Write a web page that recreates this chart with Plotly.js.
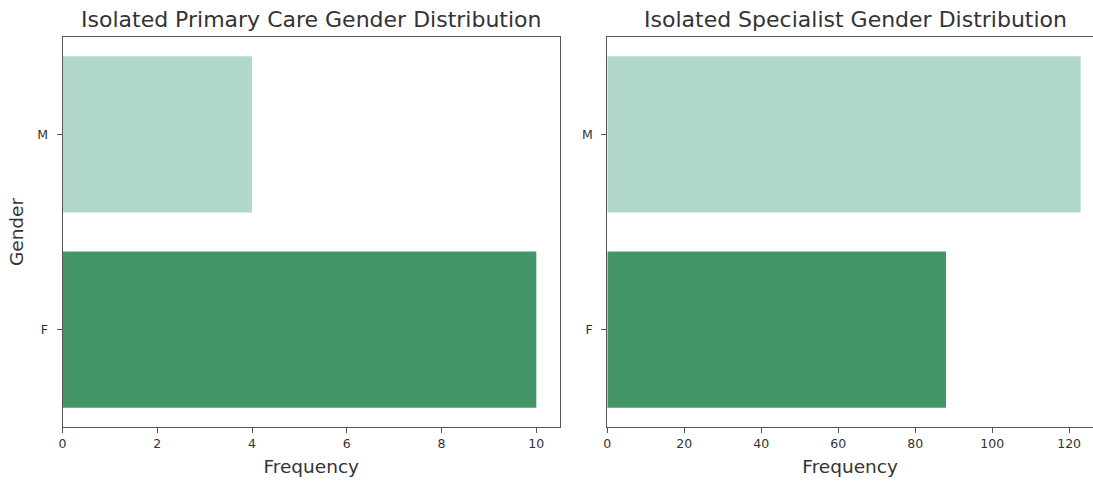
<!DOCTYPE html>
<html>
<head>
<meta charset="utf-8">
<script src="https://cdn.plot.ly/plotly-3.0.1.min.js"></script>
<style>html,body{margin:0;padding:0;background:#fff;}#chart{width:1093px;height:487px;}</style>
</head>
<body>
<div id="chart"></div>
<script>
const genders = ['M', 'F'];
const primaryCounts = [4, 10];
const specialistCounts = [123, 88];
const barColors = ['#b2d8ce', '#449669'];
const subplotTitles = ['Isolated Primary Care Gender Distribution', 'Isolated Specialist Gender Distribution'];
const primaryTicks = [0, 2, 4, 6, 8, 10];
const specialistTicks = [0, 20, 40, 60, 80, 100, 120];

const W = 1093, H = 487;
const font = 'DejaVu Sans, sans-serif';
const axisColor = '#555555';
const tickFont = {family: font, size: 12.5, color: '#333333'};
const titleFont = {family: font, size: 18.5, color: '#333333'};

const traces = [
  {type: 'bar', orientation: 'h', y: genders, x: primaryCounts, width: 0.8,
   marker: {color: barColors, line: {width: 0}}, xaxis: 'x', yaxis: 'y', showlegend: false, hoverinfo: 'x+y'},
  {type: 'bar', orientation: 'h', y: genders, x: specialistCounts, width: 0.8,
   marker: {color: barColors, line: {width: 0}}, xaxis: 'x2', yaxis: 'y2', showlegend: false, hoverinfo: 'x+y'}
];

const yTop = 1 - 36.7 / H, yBot = 1 - 427.3 / H;
const baseX = {showgrid: false, zeroline: false, showline: true, linecolor: axisColor, linewidth: 1,
  ticks: 'outside', ticklen: 5, tickwidth: 1, tickcolor: axisColor, tickfont: tickFont};
const baseY = {showgrid: false, zeroline: false, showline: true, linecolor: axisColor, linewidth: 1,
  ticks: 'outside', ticklen: 5, tickwidth: 1, tickcolor: axisColor, tickfont: tickFont, ticklabelstandoff: 6,
  type: 'category', categoryorder: 'array', categoryarray: genders, range: [1.5, -0.5]};

const layout = {
  width: W, height: H,
  margin: {l: 0, r: 0, t: 0, b: 0},
  paper_bgcolor: '#ffffff', plot_bgcolor: '#ffffff',
  bargap: 0.2,
  xaxis: Object.assign({}, baseX, {domain: [62.5 / W, 560 / W], range: [0, 10.5], anchor: 'y',
    tickvals: primaryTicks, mirror: true,
    title: {text: 'Frequency', font: titleFont, standoff: 9}}),
  yaxis: Object.assign({}, baseY, {domain: [yBot, yTop], anchor: 'x', mirror: true,
    title: {text: 'Gender', font: titleFont, standoff: 8}}),
  xaxis2: Object.assign({}, baseX, {domain: [607.3 / W, 1], range: [0, 126.2], anchor: 'y2',
    tickvals: specialistTicks, mirror: true,
    title: {text: 'Frequency', font: titleFont, standoff: 9}}),
  yaxis2: Object.assign({}, baseY, {domain: [yBot, yTop], anchor: 'x2', mirror: false}),
  annotations: [
    {text: subplotTitles[0], xref: 'paper', yref: 'paper', x: 311 / W, y: 1 - 20 / H,
     xanchor: 'center', yanchor: 'middle', showarrow: false, font: {family: font, size: 22, color: '#333333'}},
    {text: subplotTitles[1], xref: 'paper', yref: 'paper', x: 855.5 / W, y: 1 - 20 / H,
     xanchor: 'center', yanchor: 'middle', showarrow: false, font: {family: font, size: 22, color: '#333333'}}
  ]
};

Plotly.newPlot('chart', traces, layout, {displayModeBar: false, staticPlot: true});
</script>
</body>
</html>
